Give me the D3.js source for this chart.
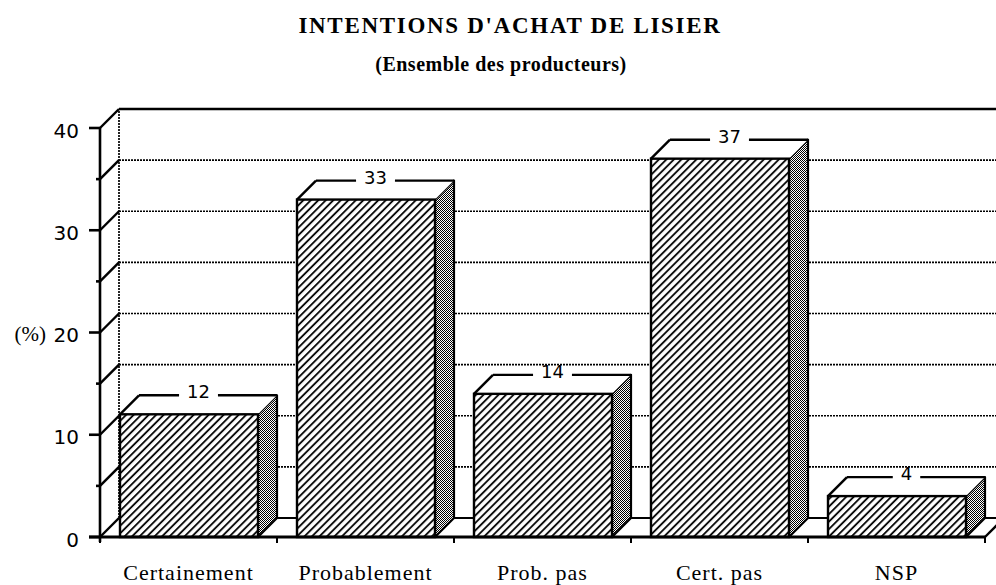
<!DOCTYPE html>
<html><head><meta charset="utf-8">
<script src="https://cdn.jsdelivr.net/npm/d3@7"></script>
<style>html,body{margin:0;padding:0;background:#fff;}svg{display:block;}</style>
</head><body>
<svg id="c" width="996" height="585"></svg>
<script>
const title = "INTENTIONS D'ACHAT DE LISIER";
const subtitle = "(Ensemble des producteurs)";
const yLabel = "(%)";
const categories = ["Certainement", "Probablement", "Prob. pas", "Cert. pas", "NSP"];
const values = [12, 33, 14, 37, 4];
const yTicks = [0, 10, 20, 30, 40];
const yMinorTicks = [5, 15, 25, 35];
const gridValues = [5, 10, 15, 20, 25, 30, 35];

const W = 996, H = 585;
const svg = d3.select("#c");
const DX = 19, DY = -19;
const x = d3.scaleBand().domain(categories).range([100, 985]).padding(0);
const y = d3.scaleLinear().domain([0, 40]).range([537, 128]);
const backX = 100 + DX;
const RIGHT = 1010;

// patterns
const defs = svg.append("defs");
const hatch = defs.append("pattern").attr("id", "hatch").attr("patternUnits", "userSpaceOnUse")
  .attr("width", 5.3).attr("height", 10).attr("patternTransform", "rotate(45)");
hatch.append("rect").attr("width", 5.3).attr("height", 10).attr("fill", "#fff");
hatch.append("line").attr("x1", 1).attr("x2", 1).attr("y1", 0).attr("y2", 10)
  .attr("stroke", "#000").attr("stroke-width", 1.8);
const dots = defs.append("pattern").attr("id", "dots").attr("patternUnits", "userSpaceOnUse")
  .attr("width", 2).attr("height", 2);
dots.append("rect").attr("width", 2).attr("height", 2).attr("fill", "#fff");
dots.append("rect").attr("x", 0).attr("y", 0).attr("width", 1).attr("height", 1).attr("fill", "#000");
dots.append("rect").attr("x", 1).attr("y", 1).attr("width", 1).attr("height", 1).attr("fill", "#000");

// title
svg.append("text").attr("x", 510).attr("y", 33).attr("text-anchor", "middle")
  .attr("font-family", "Liberation Serif, Times New Roman, serif").attr("font-weight", "bold")
  .attr("font-size", 23).attr("letter-spacing", 1.7).text(title);
svg.append("text").attr("x", 501).attr("y", 71).attr("text-anchor", "middle")
  .attr("font-family", "Liberation Serif, Times New Roman, serif").attr("font-weight", "bold")
  .attr("font-size", 20).attr("letter-spacing", 0.5).text(subtitle);

// back wall gridlines
const g = svg.append("g");
g.selectAll("line.grid").data(gridValues).enter().append("line")
  .attr("x1", backX).attr("x2", RIGHT)
  .attr("y1", d => y(d) + DY).attr("y2", d => y(d) + DY)
  .attr("stroke", "#000").attr("stroke-width", 1.7).attr("stroke-dasharray", "2,1");
// back wall top line
g.append("line").attr("x1", backX).attr("x2", RIGHT).attr("y1", y(40) + DY).attr("y2", y(40) + DY)
  .attr("stroke", "#000").attr("stroke-width", 2.4);
// back wall left vertical
g.append("line").attr("x1", backX).attr("x2", backX).attr("y1", y(0) + DY).attr("y2", y(40) + DY)
  .attr("stroke", "#000").attr("stroke-width", 1.7).attr("stroke-dasharray", "2,1");
// floor back line
g.append("line").attr("x1", backX).attr("x2", RIGHT).attr("y1", y(0) + DY).attr("y2", y(0) + DY)
  .attr("stroke", "#000").attr("stroke-width", 2.2);
// left diagonals at each tick
g.selectAll("line.diag").data(d3.range(0, 41, 5)).enter().append("line")
  .attr("x1", 100).attr("y1", d => y(d)).attr("x2", backX).attr("y2", d => y(d) + DY)
  .attr("stroke", "#000").attr("stroke-width", 2.4);
// floor right diagonal
g.append("line").attr("x1", 985).attr("y1", y(0)).attr("x2", 985 + DX).attr("y2", y(0) + DY)
  .attr("stroke", "#000").attr("stroke-width", 2.4);

// bars
const bars = svg.append("g");
categories.forEach((c, i) => {
  const v = values[i];
  const x0 = x(c) + 20, x1 = x(c) + x.bandwidth() - DX;
  const yt = y(v), yb = y(0);
  const bg = bars.append("g");
  // side face
  bg.append("polygon")
    .attr("points", [[x1, yt], [x1 + DX, yt + DY], [x1 + DX, yb + DY], [x1, yb]].map(p => p.join(",")).join(" "))
    .attr("fill", "url(#dots)").attr("stroke", "#000").attr("stroke-width", 2.2).attr("stroke-linejoin", "round");
  // top face
  bg.append("polygon")
    .attr("points", [[x0, yt], [x0 + DX, yt + DY], [x1 + DX, yt + DY], [x1, yt]].map(p => p.join(",")).join(" "))
    .attr("fill", "#fff").attr("stroke", "none");
  bg.append("line").attr("x1", x0).attr("y1", yt).attr("x2", x0 + DX).attr("y2", yt + DY)
    .attr("stroke", "#000").attr("stroke-width", 2.4);
  // front face
  bg.append("rect").attr("x", x0).attr("y", yt).attr("width", x1 - x0).attr("height", yb - yt)
    .attr("fill", "url(#hatch)").attr("stroke", "#000").attr("stroke-width", 2.4);
  // back top edge split by label
  const lx = (x0 + x1) / 2 + DX / 2;
  const t = bg.append("text").attr("x", lx).attr("y", yt + DY + 3).attr("text-anchor", "middle")
    .attr("font-family", "DejaVu Sans, Verdana, sans-serif").attr("font-size", 18).text(v);
  const tw = t.node().getComputedTextLength();
  const gap = tw / 2 + 8;
  bg.append("line").attr("x1", x0 + DX).attr("x2", lx - gap).attr("y1", yt + DY).attr("y2", yt + DY)
    .attr("stroke", "#000").attr("stroke-width", 2.4);
  bg.append("line").attr("x1", lx + gap).attr("x2", x1 + DX).attr("y1", yt + DY).attr("y2", yt + DY)
    .attr("stroke", "#000").attr("stroke-width", 2.4);
});

// front axes
const ax = svg.append("g");
ax.append("line").attr("x1", 100).attr("x2", 100).attr("y1", y(0) + 5).attr("y2", y(40))
  .attr("stroke", "#000").attr("stroke-width", 2.6);
ax.append("line").attr("x1", 89).attr("x2", 985).attr("y1", y(0)).attr("y2", y(0))
  .attr("stroke", "#000").attr("stroke-width", 3);
ax.selectAll("line.maj").data(yTicks).enter().append("line")
  .attr("x1", 89).attr("x2", 100).attr("y1", d => y(d)).attr("y2", d => y(d))
  .attr("stroke", "#000").attr("stroke-width", 2.6);
ax.selectAll("line.min").data(yMinorTicks).enter().append("line")
  .attr("x1", 96).attr("x2", 100).attr("y1", d => y(d)).attr("y2", d => y(d))
  .attr("stroke", "#000").attr("stroke-width", 2.6);
ax.selectAll("text.yt").data(yTicks).enter().append("text")
  .attr("x", 79).attr("y", d => y(d) + 4).attr("text-anchor", "end").attr("dominant-baseline", "middle")
  .attr("font-family", "DejaVu Sans, Verdana, sans-serif").attr("font-size", 20).text(d => d);
ax.append("text").attr("x", 46).attr("y", y(20) + 4).attr("text-anchor", "end").attr("dominant-baseline", "middle")
  .attr("font-family", "Liberation Serif, Times New Roman, serif")
  .attr("font-size", 21).text(yLabel);
// x ticks
const xt = categories.map(c => x(c)).concat([x(categories[categories.length - 1]) + x.bandwidth()]);
ax.selectAll("line.xt").data(xt).enter().append("line")
  .attr("x1", d => d).attr("x2", d => d).attr("y1", y(0)).attr("y2", y(0) + 6)
  .attr("stroke", "#000").attr("stroke-width", 2);
ax.selectAll("text.xl").data(categories).enter().append("text")
  .attr("x", d => x(d) + x.bandwidth() / 2).attr("y", 580).attr("text-anchor", "middle")
  .attr("font-family", "Liberation Serif, Times New Roman, serif").attr("font-size", 22)
  .attr("letter-spacing", 1).text(d => d);
</script>
</body></html>
